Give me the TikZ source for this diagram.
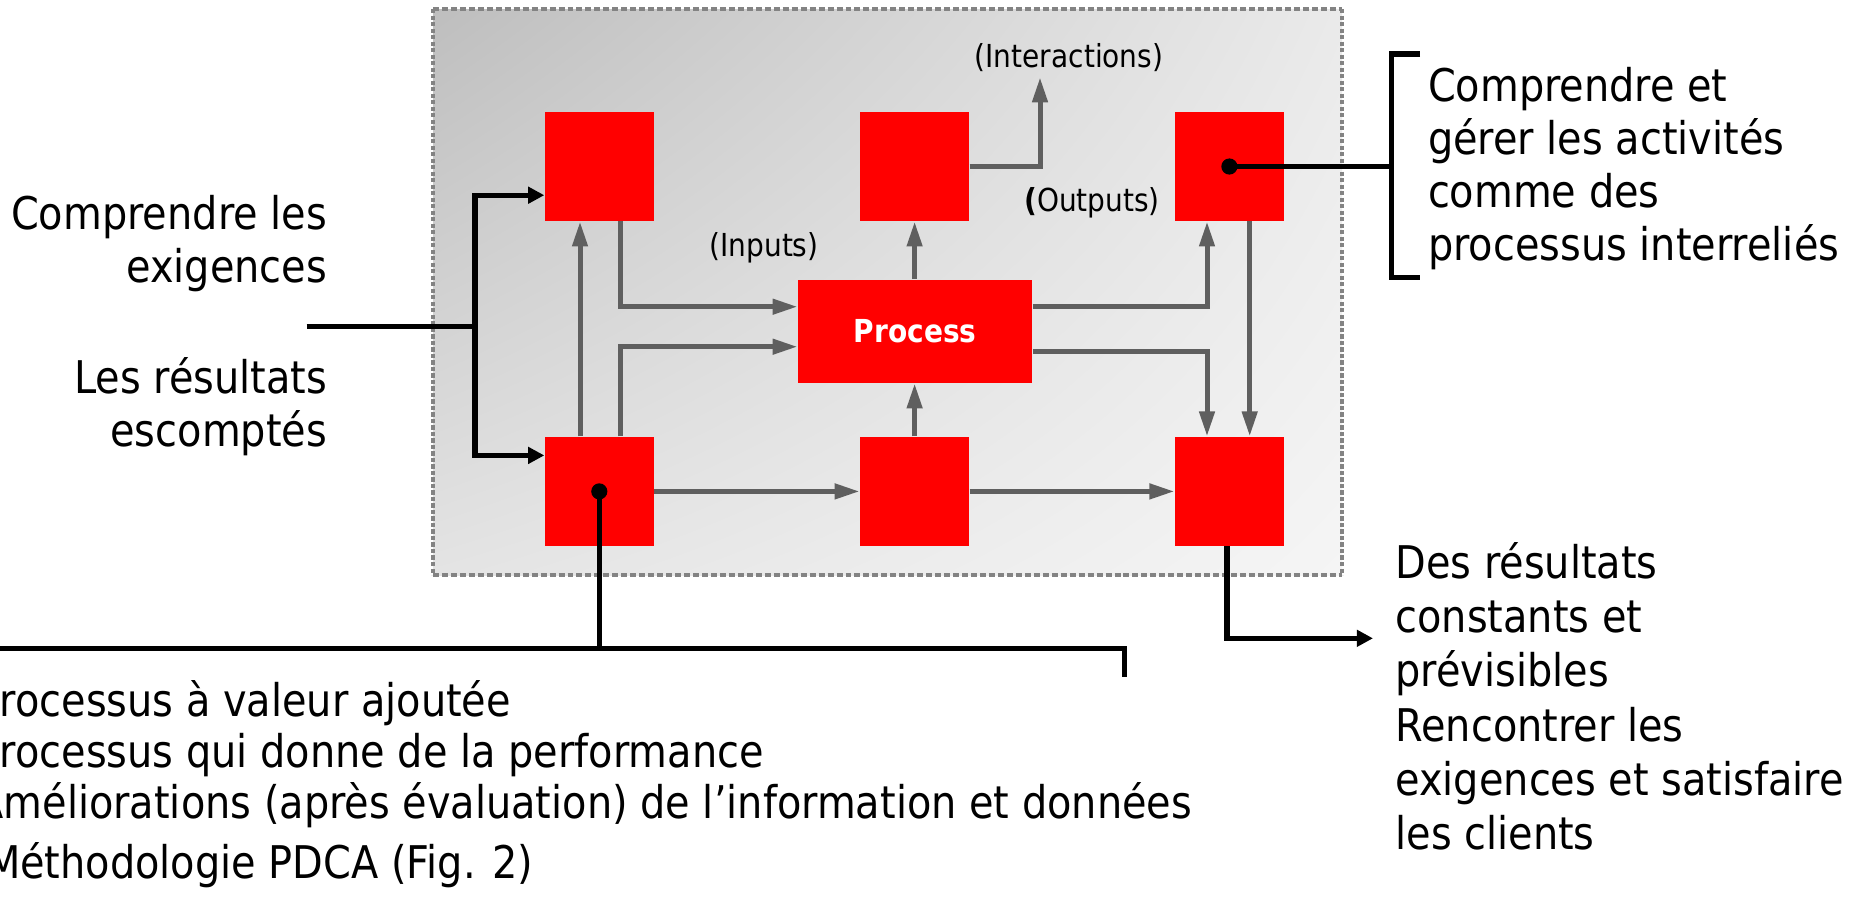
\documentclass[tikz,border=0pt]{standalone}
\usepackage{fontspec}
\setmainfont{DejaVu Sans}[FakeStretch=0.885]
\usetikzlibrary{arrows.meta,shadings}

\definecolor{procred}{HTML}{FF0000}
\definecolor{linkgray}{HTML}{5F5F5F}
\definecolor{framegray}{HTML}{838383}
\definecolor{bgUL}{HTML}{BEBEBE}
\definecolor{bgUR}{HTML}{EAEAEA}
\definecolor{bgLL}{HTML}{E4E4E4}
\definecolor{bgLR}{HTML}{F5F5F5}

% multi-line text block whose baseline is the baseline of its first line
\newcommand\txtlines[3]{{\fontsize{12.8pt}{#1}\selectfont
  \renewcommand\arraystretch{1}\begin{tabular}[t]{@{}#2@{}}#3\end{tabular}}}

\tikzset{
  redbox/.style={fill=procred, draw=none, inner sep=0pt,
    minimum width=10.85mm, minimum height=10.85mm},
  procbox/.style={fill=procred, draw=none, inner sep=0pt,
    minimum width=23.37mm, minimum height=10.27mm, text=white,
    font=\bfseries\fontsize{9pt}{10.8pt}\selectfont},
  gline/.style={draw=linkgray, line width=1.42pt},
  garrow/.style={gline, -{Triangle[length=7.1pt,width=4.2pt]}},
  bline/.style={draw=black, line width=1.5pt},
  barrow/.style={bline, -{Triangle[length=4.6pt,width=4.6pt]}},
  dotnode/.style={circle, fill=black, inner sep=0pt, minimum size=4.6pt},
  txt/.style={inner sep=0pt, outer sep=0pt},
  lbl/.style={inner sep=0pt, outer sep=0pt, font=\fontsize{9pt}{10.8pt}\selectfont},
  hframe/.style={draw=framegray, line width=1.25pt, dash pattern=on 1.7pt off 0.85pt},
  vframe/.style={draw=framegray, line width=1.4pt, dash pattern=on 1.2pt off 0.65pt},
}

\begin{document}
\begin{tikzpicture}[x=0.01cm, y=-0.01cm]
\useasboundingbox (0,0) rectangle (1854,908);
\fill[white] (0,0) rectangle (1854,908);

% shaded frame around the process map
\coordinate (fUL) at (433,9);
\coordinate (fUR) at (1342,9);
\coordinate (fLL) at (433,575);
\coordinate (fLR) at (1342,575);
\shade[upper left=bgUL, upper right=bgUR, lower left=bgLL, lower right=bgLR]
  (fUL) rectangle (fLR);
\draw[hframe] (fUL) -- (fUR);
\draw[hframe] (fLL) -- (fLR);
\draw[vframe] (fUL) -- (fLL);
\draw[vframe] (fUR) -- (fLR);

% activity boxes
\node[redbox] (TL) at (599.3,166.5) {};
\node[redbox] (TM) at (914.6,166.5) {};
\node[redbox] (TR) at (1229.4,166.5) {};
\node[redbox] (BL) at (599.3,491.4) {};
\node[redbox] (BM) at (914.6,491.4) {};
\node[redbox] (BR) at (1229.4,491.4) {};
\node[procbox] (P) at (915.2,331.3) {Process};

% lanes of the grey links
\coordinate (xin) at (620,0);
\coordinate (xup) at (580,0);
\coordinate (xout) at (1207,0);
\coordinate (xdown) at (1249.7,0);
\coordinate (yin1) at (0,306.7);
\coordinate (yin2) at (0,346.7);
\coordinate (yout2) at (0,351);
\coordinate (itip) at (1040,77.3);

\draw[garrow] (TL.south -| xin) |- (P.west |- yin1);
\draw[garrow] (BL.north -| xin) |- (P.west |- yin2);
\draw[garrow] (BL.north -| xup) -- (TL.south -| xup);
\draw[garrow] (P.north -| TM.south) -- (TM.south);
\draw[garrow] (TM.east) -| (itip);
\draw[garrow] (P.east |- yin1) -| (TR.south -| xout);
\draw[garrow] (P.east |- yout2) -| (BR.north -| xout);
\draw[garrow] (TR.south -| xdown) -- (BR.north -| xdown);
\draw[garrow] (BM.north) -- (P.south -| BM.north);
\draw[garrow] (BL.east) -- (BM.west);
\draw[garrow] (BM.east) -- (BR.west);

% labels of the links
\node[lbl, anchor=base] (inter) at (1069,67.3) {(Interactions)};
\node[lbl, anchor=base] (inp) at (764,256.7) {(Inputs)};
\node[lbl, anchor=base] (outp) at (1092,211.7) {\textbf{(}Outputs)};

% requirements entering on the left
\coordinate (fin) at (306.7,326.7);
\coordinate (fork) at (475,326.7);
\coordinate (yTL) at (0,195.2);
\coordinate (yBL) at (0,455.4);
\draw[bline] (fin) -- (fork);
\draw[barrow] (fork) |- (TL.west |- yTL);
\draw[barrow] (fork) |- (BL.west |- yBL);

% bracket on the right
\node[dotnode] (dTR) at (TR.center) {};
\coordinate (brkT) at (1391.7,54);
\coordinate (brkB) at (1391.7,277.3);
\coordinate (tickT) at (1420,54);
\coordinate (tickB) at (1420,277.3);
\draw[bline] (dTR.center) -- (dTR.center -| brkT);
\draw[bline] (tickT) -- (brkT) -- (brkB) -- (tickB);

% bracket below
\node[dotnode] (dBL) at (BL.center) {};
\coordinate (barL) at (-30,648.3);
\coordinate (barR) at (1124.7,648.3);
\coordinate (barT) at (1124.7,676.7);
\draw[bline] (dBL.center) -- (dBL.center |- barL);
\draw[bline] (barL) -- (barR) -- (barT);

% results leaving on the right
\coordinate (bx) at (1227,0);
\coordinate (outR) at (1373,638.3);
\draw[barrow] (BR.south -| bx) |- (outR);

% texts
\node[txt, anchor=base east] (req) at (327,229)
  {\txtlines{15.1pt}{r}{Comprendre les\\exigences}};
\node[txt, anchor=base east] (res) at (327,393.5)
  {\txtlines{15.1pt}{r}{Les résultats\\escomptés}};
\node[txt, anchor=base west] (act) at (1428,101.5)
  {\txtlines{15.1pt}{l}{Comprendre et\\gérer les activités\\comme des\\processus interreliés}};
\node[txt, anchor=base west] (cons) at (1395.5,578)
  {\txtlines{15.45pt}{l}{Des résultats\\constants et\\prévisibles\\Rencontrer les\\exigences et satisfaire\\les clients}};
\node[txt, anchor=base west] (val) at (-23.5,716)
  {\txtlines{14.55pt}{l}{Processus à valeur ajoutée\\Processus qui donne de la performance\\Améliorations (après évaluation) de l’information et données}};
\node[txt, anchor=base west] (pdca) at (-14,878)
  {\txtlines{14.55pt}{l}{Méthodologie PDCA (Fig. 2)}};
\end{tikzpicture}
\end{document}
